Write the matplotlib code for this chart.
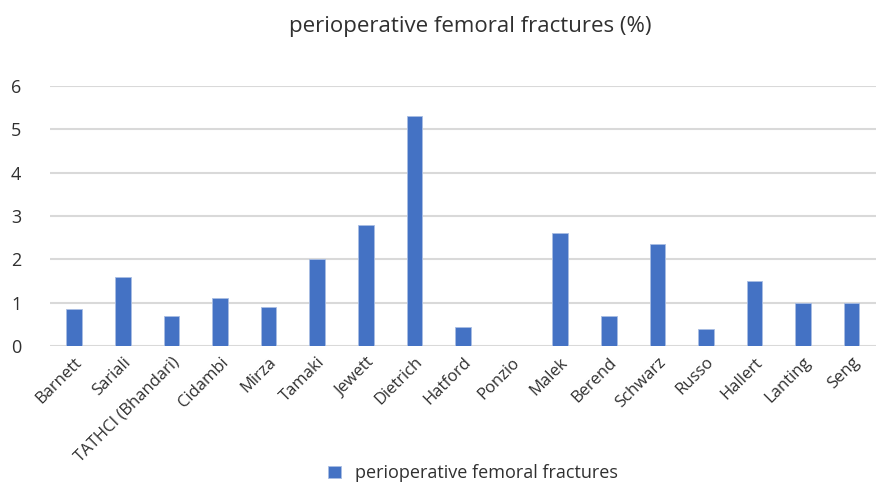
import matplotlib.pyplot as plt
import numpy as np

studies = ["Barnett", "Sariali", "TATHCI (Bhandari)", "Cidambi", "Mirza", "Tamaki",
           "Jewett", "Dietrich", "Hatford", "Ponzio", "Malek", "Berend", "Schwarz",
           "Russo", "Hallert", "Lanting", "Seng"]
fractures = [0.85, 1.6, 0.7, 1.1, 0.9, 2.0, 2.8, 5.3, 0.45, 0, 2.6, 0.7, 2.35,
             0.4, 1.5, 1.0, 1.0]

plt.rcParams['font.family'] = ['Open Sans', 'DejaVu Sans']

fig = plt.figure(figsize=(8.76, 4.87), dpi=100)
ax = fig.add_axes([0.057, 0.2895, 0.943, 0.534])

x = np.arange(len(studies))
ax.bar(x, fractures, width=0.32, color="#4472C4", edgecolor="#a9bde3", linewidth=0.6,
       label="perioperative femoral fractures", zorder=3)

ax.set_xlim(-0.5, len(studies) - 0.5)
ax.set_ylim(0, 6)
ax.set_yticks(range(7))
ax.yaxis.grid(True, color="#d9d9d9", linewidth=1.5, zorder=0)
ax.tick_params(axis="both", length=0, labelsize=12, colors="#303030")
ax.tick_params(axis="y", pad=28, labelsize=13)
ax.set_yticklabels([str(i) for i in range(7)], ha="left")
ax.set_xticks(x)
ax.set_xticklabels(studies, rotation=45, ha="right", rotation_mode="anchor")
ax.tick_params(axis="x", pad=6)
for s in ax.spines.values():
    s.set_visible(False)

fig.text(0.537, 0.945, "perioperative femoral fractures (%)", ha="center", va="center",
         fontsize=16, color="#303030")

leg = fig.legend(loc="center", bbox_to_anchor=(0.54, 0.028), frameon=False,
                 fontsize=13, handlelength=0.7, handleheight=0.7, handletextpad=0.8)
for t in leg.get_texts():
    t.set_color("#303030")

fig.savefig("out.png", dpi=100)
